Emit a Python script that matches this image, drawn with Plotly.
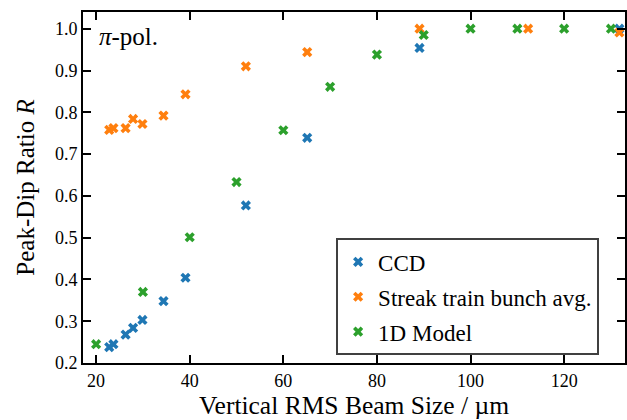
import plotly.graph_objects as go

ccd_x = [22.8, 23.7, 26.3, 27.9, 29.9, 34.4, 39.1, 52.0, 65.1, 89.1, 131.8]
ccd_y = [0.238, 0.245, 0.268, 0.284, 0.303, 0.348, 0.404, 0.577, 0.739, 0.954, 1.0]

streak_x = [22.8, 23.7, 26.3, 27.9, 29.9, 34.4, 39.1, 52.0, 65.1, 89.1, 112.3, 131.8]
streak_y = [0.758, 0.762, 0.762, 0.784, 0.772, 0.792, 0.843, 0.910, 0.944, 1.0, 1.0, 0.991]

model_x = [20, 30, 40, 50, 60, 70, 80, 90, 100, 110, 120, 130]
model_y = [0.245, 0.370, 0.501, 0.633, 0.757, 0.861, 0.938, 0.985, 1.0, 1.0, 1.0, 1.0]

x_ticks = [20, 40, 60, 80, 100, 120]
y_ticks = [0.2, 0.3, 0.4, 0.5, 0.6, 0.7, 0.8, 0.9, 1.0]

FONT = "Liberation Serif"
series = [
    ("CCD", ccd_x, ccd_y, "#1f77b4"),
    ("Streak train bunch avg.", streak_x, streak_y, "#ff7f0e"),
    ("1D Model", model_x, model_y, "#2ca02c"),
]

fig = go.Figure()
for i, (name, xs, ys, col) in enumerate(series):
    fig.add_trace(go.Scatter(
        x=xs, y=ys, mode="markers", name=name, legendgroup=f"g{i}",
        marker=dict(symbol="x", size=9, color=col, line=dict(width=0)),
        cliponaxis=True,
    ))

axis_common = dict(
    showline=True, linecolor="black", linewidth=2, mirror="ticks",
    ticks="inside", ticklen=8, tickwidth=1.5, tickcolor="black",
    showgrid=False, zeroline=False,
    tickfont=dict(family=FONT, size=18, color="black"),
)

fig.update_layout(
    width=627, height=420,
    margin=dict(l=83, r=0, t=12, b=57),
    paper_bgcolor="white", plot_bgcolor="white",
    font=dict(family=FONT, color="black"),
    xaxis=dict(range=[17.2, 133], tickvals=x_ticks, ticktext=[str(v) for v in x_ticks],
               title=dict(text="Vertical RMS Beam Size / µm", font=dict(family=FONT, size=25.5), standoff=4),
               **axis_common),
    yaxis=dict(range=[0.2, 1.04], tickvals=y_ticks, ticktext=[f"{v:.1f}" for v in y_ticks],
               title=dict(text="Peak-Dip Ratio <i>R</i>", font=dict(family=FONT, size=25), standoff=13),
               **axis_common),
    legend=dict(
        x=0.467, y=0.355, xanchor="left", yanchor="top",
        bgcolor="white", bordercolor="#404040", borderwidth=2,
        font=dict(family=FONT, size=23, color="black"),
        traceorder="grouped", tracegroupgap=2,
    ),
    annotations=[dict(
        text="<i>π</i>-pol.", xref="paper", yref="paper", x=0.025, y=0.975,
        xanchor="left", yanchor="top", showarrow=False,
        font=dict(family=FONT, size=25, color="black"),
    )],
)

fig.write_html("out.html")
